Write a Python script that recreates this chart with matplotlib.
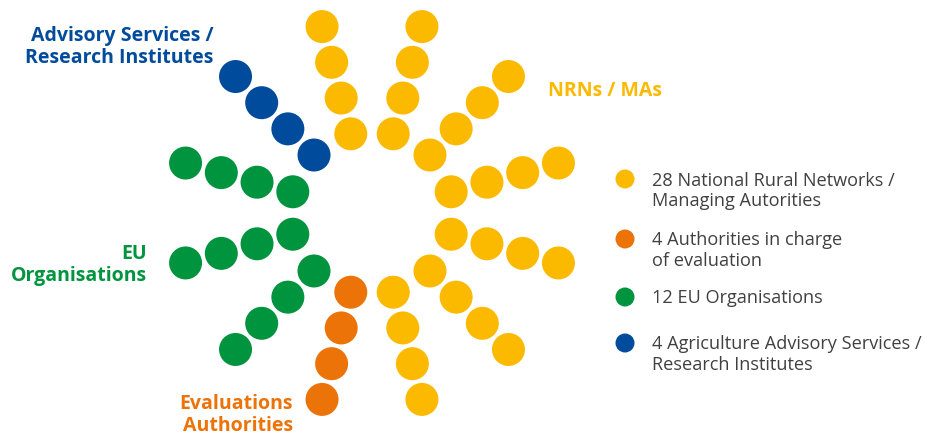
import numpy as np
import matplotlib
matplotlib.use("Agg")
import matplotlib.pyplot as plt

# ---- data ----
groups = ["NRNs / MAs", "Evaluations Authorities", "EU Organisations", "Advisory Services / Research Institutes"]
counts = [28, 4, 12, 4]
colors = ["#FBBA00", "#EB7308", "#00943E", "#004B9B"]
legend_labels = [
    "28 National Rural Networks /\nManaging Autorities",
    "4 Authorities in charge\nof evaluation",
    "12 EU Organisations",
    "4 Agriculture Advisory Services /\nResearch Institutes",
]
group_labels = ["NRNs / MAs", "Evaluations\nAuthorities", "EU\nOrganisations", "Advisory Services /\nResearch Institutes"]

dots_per_spoke = 4

plt.rcParams['font.family'] = ['Open Sans', 'DejaVu Sans']

W, H = 942, 435
fig = plt.figure(figsize=(W / 100, H / 100), dpi=100)
ax = fig.add_axes([0, 0, 1, 1])
ax.set_xlim(0, W)
ax.set_ylim(H, 0)
ax.set_aspect('equal')
ax.axis('off')

cx, cy = 372, 214
radii = [82, 119, 156, 193]
dot_s = (33 * 72 / 100) ** 2

angle = 105.0
for n, c in zip(counts, colors):
    for k in range(n // dots_per_spoke):
        a = np.deg2rad(angle)
        xs = [cx + r * np.cos(a) for r in radii]
        ys = [cy - r * np.sin(a) for r in radii]
        ax.scatter(xs, ys, s=dot_s, color=c, edgecolors='none', zorder=3)
        angle -= 30

# group labels
lab_pos = [(548, 91, 'left'), (293, 415, 'right'), (147, 265, 'right'), (213, 47, 'right')]
for txt, c, (x, y, ha) in zip(group_labels, colors, lab_pos):
    ax.text(x, y, txt, color=c, fontsize=14, fontweight='bold', ha=ha, va='center',
            linespacing=1.12, multialignment=ha)

# legend
leg_y = [191, 250.5, 298.5, 354.5]
leg_dot_y = [180, 240, 298, 344]
for txt, c, y, dy in zip(legend_labels, colors, leg_y, leg_dot_y):
    ax.scatter([625], [dy], s=(19 * 72 / 100) ** 2, color=c, edgecolors='none')
    ax.text(652, y, txt, color='#404040', fontsize=13.1, ha='left', va='center', linespacing=1.2)

fig.savefig('out.png', dpi=100)
